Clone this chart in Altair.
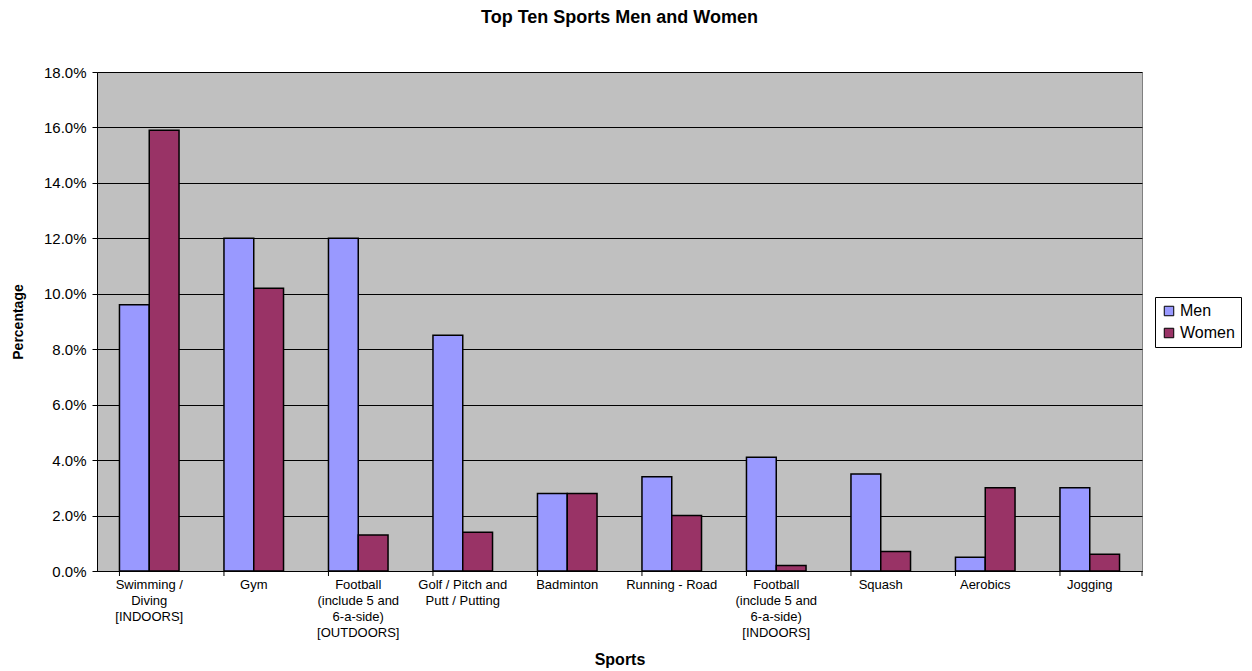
import altair as alt
import pandas as pd

# Share of participants naming each sport, by sex
sports = [
    "Swimming /\nDiving\n[INDOORS]",
    "Gym",
    "Football\n(include 5 and\n6-a-side)\n[OUTDOORS]",
    "Golf / Pitch and\nPutt / Putting",
    "Badminton",
    "Running - Road",
    "Football\n(include 5 and\n6-a-side)\n[INDOORS]",
    "Squash",
    "Aerobics",
    "Jogging",
]
men = [9.6, 12.0, 12.0, 8.5, 2.8, 3.4, 4.1, 3.5, 0.5, 3.0]
women = [15.9, 10.2, 1.3, 1.4, 2.8, 2.0, 0.2, 0.7, 3.0, 0.6]
series = ["Men", "Women"]
series_colors = ["#9999FF", "#993366"]
y_ticks = [0.0, 0.02, 0.04, 0.06, 0.08, 0.10, 0.12, 0.14, 0.16, 0.18]

rows = []
for s, m, w in zip(sports, men, women):
    rows.append({"sport": s, "sex": "Men", "pct": m / 100})
    rows.append({"sport": s, "sex": "Women", "pct": w / 100})
df = pd.DataFrame(rows)

FONT = "Liberation Sans"
W, H = 1045, 499

x_scale = alt.Scale(paddingInner=0.43, paddingOuter=0.215)

bars = alt.Chart(df).mark_bar(stroke="black", strokeWidth=1.5).encode(
    x=alt.X(
        "sport:N",
        sort=sports,
        scale=x_scale,
        axis=alt.Axis(
            title="Sports",
            titleFont=FONT,
            titleFontSize=16,
            titleFontWeight="bold",
            titleY=88,
            titleBaseline="middle",
            labelFont=FONT,
            labelFontSize=13,
            labelColor="black",
            labelAngle=0,
            labelLimit=0,
            labelPadding=7,
            labelBaseline="top",
            labelLineHeight=16,
            labelExpr="split(datum.label, '\\n')",
            ticks=False,
            domainColor="black",
            domainWidth=1,
        ),
    ),
    xOffset=alt.XOffset("sex:N", sort=series, scale=alt.Scale(paddingInner=0, paddingOuter=0)),
    y=alt.Y(
        "pct:Q",
        scale=alt.Scale(domain=[0, 0.18], nice=False),
        axis=alt.Axis(
            title="Percentage",
            titleFont=FONT,
            titleFontSize=14,
            titleFontWeight="bold",
            titleAngle=270,
            titleX=-79,
            titleY=H / 2,
            titleAlign="center",
            titleBaseline="middle",
            values=y_ticks,
            format=".1%",
            labelFont=FONT,
            labelFontSize=15,
            labelColor="black",
            labelPadding=6,
            tickSize=5,
            tickColor="black",
            domainColor="black",
            grid=True,
            gridColor="black",
            gridWidth=1,
        ),
    ),
    color=alt.Color(
        "sex:N",
        sort=series,
        scale=alt.Scale(domain=series, range=series_colors),
        legend=alt.Legend(
            title=None,
            orient="none",
            legendX=1058,
            legendY=225,
            symbolType="square",
            symbolSize=90,
            symbolStrokeColor="black",
            symbolStrokeWidth=1,
            labelFont=FONT,
            labelFontSize=16,
            labelColor="black",
            labelOffset=3,
            rowPadding=6,
            padding=6,
            strokeColor="black",
            fillColor="white",
        ),
    ),
)

# Category separator ticks below the x axis
sep_ticks = alt.Chart(pd.DataFrame({"sport": sports})).mark_rule(color="black", strokeWidth=1).encode(
    x=alt.X("sport:N", sort=sports, bandPosition=0),
    y=alt.value(H),
    y2=alt.value(H + 5),
)
end_tick = alt.Chart(pd.DataFrame({"k": [0]})).mark_rule(color="black", strokeWidth=1).encode(
    x=alt.value(W),
    y=alt.value(H),
    y2=alt.value(H + 5),
)

chart = (
    alt.layer(bars, sep_ticks, end_tick)
    .properties(
        width=W,
        height=H,
        title=alt.TitleParams(
            "Top Ten Sports Men and Women",
            font=FONT,
            fontSize=18,
            fontWeight="bold",
            color="black",
            anchor="middle",
            baseline="alphabetic",
            offset=24,
        ),
        autosize=alt.AutoSizeParams(type="none"),
        padding={"left": 97, "top": 72, "right": 110, "bottom": 100},
        background="white",
    )
    .configure_view(fill="#C0C0C0", stroke="#808080", strokeWidth=1)
)

chart.save("out.html", embed_options={"renderer": "svg", "actions": False})
